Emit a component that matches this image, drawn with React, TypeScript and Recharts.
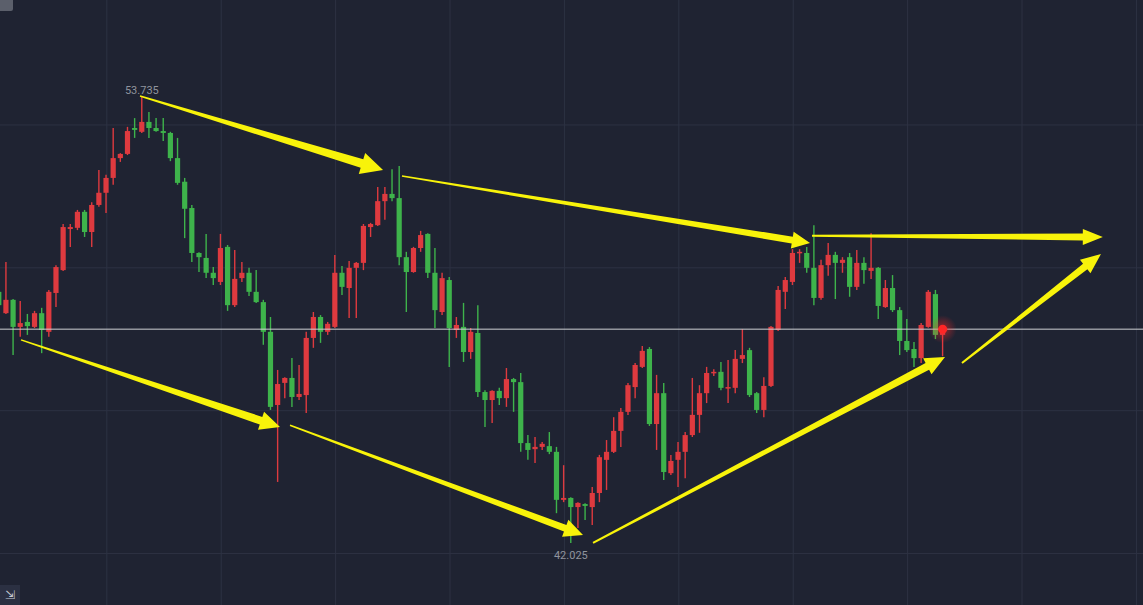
import React from 'react'
import {
  ComposedChart,
  Bar,
  XAxis,
  YAxis,
  CartesianGrid,
  ReferenceLine,
  ReferenceDot,
} from 'recharts'

const W = 1143
const H = 605

// candle values, one entry per bar (index = position on the x axis)
const opens = [
  48.62, 48.06, 48.41, 47.7, 47.83, 47.7, 48.06, 47.57, 48.59, 49.19,
  50.27, 50.3, 50.72, 50.19, 50.9, 51.22, 51.61, 52.13, 52.24, 52.92,
  52.82, 53.08, 52.92, 52.84, 52.79, 52.13, 51.51, 50.82, 49.64, 49.51,
  49.12, 48.88, 49.8, 48.27, 48.98, 49.12, 48.62, 48.35, 47.57, 45.65,
  46.23, 46.36, 45.86, 45.91, 47.41, 47.96, 47.57, 47.7, 49.12, 48.72,
  49.25, 49.38, 50.32, 50.37, 51.0, 51.19, 51.08, 49.53, 49.14, 49.77,
  50.14, 49.12, 48.09, 48.93, 47.62, 47.7, 47.04, 47.54, 45.99, 45.78,
  46.02, 45.83, 46.33, 46.25, 44.65, 44.49, 44.55, 44.57, 44.42, 43.16,
  43.21, 42.97, 43.05, 42.97, 43.34, 44.21, 44.42, 44.97, 45.47, 46.12,
  46.65, 47.12, 45.15, 45.96, 43.86, 44.21, 44.42, 44.86, 45.39, 45.96,
  46.49, 46.52, 46.1, 46.1, 46.86, 47.09, 45.96, 45.52, 46.15, 47.62,
  48.62, 48.88, 49.64, 49.64, 49.25, 48.46, 49.32, 49.59, 49.38, 49.53,
  48.75, 49.38, 49.17, 49.25, 48.22, 48.72, 48.14, 47.33, 47.12, 46.88,
  47.7, 48.56, 47.49,
]
const highs = [
  48.67, 49.4, 48.43, 48.38, 48.04, 48.12, 48.2, 48.67, 49.32, 50.4,
  50.4, 50.77, 50.77, 50.97, 51.82, 51.69, 52.92, 52.26, 52.95, 53.18,
  53.735, 53.34, 53.18, 53.18, 52.82, 52.66, 51.61, 50.9, 49.66, 50.14,
  49.27, 50.14, 49.85, 49.72, 49.4, 49.25, 49.19, 48.41, 47.96, 46.57,
  46.38, 46.88, 46.7, 47.57, 48.09, 48.01, 47.83, 49.59, 49.3, 49.43,
  49.4, 50.4, 50.43, 51.37, 51.37, 51.84, 51.92, 49.67, 49.8, 50.22,
  50.16, 49.77, 49.12, 49.01, 47.96, 48.33, 47.67, 48.27, 46.04, 46.04,
  46.1, 46.62, 46.36, 46.49, 44.86, 44.81, 44.68, 44.94, 44.55, 44.07,
  43.23, 43.1, 43.07, 43.5, 44.34, 44.73, 45.33, 45.57, 46.23, 46.75,
  47.2, 47.17, 46.44, 46.23, 44.34, 44.68, 44.94, 46.36, 46.17, 46.65,
  46.59, 46.78, 46.83, 47.09, 47.64, 47.15, 45.99, 46.38, 47.72, 48.77,
  49.01, 49.74, 49.74, 49.8, 50.37, 49.46, 49.9, 49.67, 49.53, 49.64,
  49.72, 49.53, 50.16, 49.27, 48.93, 49.06, 48.22, 47.91, 47.3, 47.8,
  48.67, 48.67, 47.7,
]
const lows = [
  48.22, 48.04, 46.96, 47.44, 47.49, 47.67, 47.01, 47.44, 48.22, 49.17,
  49.8, 50.24, 50.06, 49.8, 50.85, 50.69, 51.43, 52.03, 52.21, 52.66,
  52.79, 52.66, 52.82, 52.58, 52.05, 51.43, 50.03, 49.4, 49.14, 48.98,
  48.8, 48.8, 48.12, 48.22, 48.88, 48.51, 48.33, 47.23, 45.52, 43.63,
  45.83, 45.6, 45.78, 45.44, 47.15, 47.28, 47.49, 47.67, 48.54, 47.93,
  47.93, 49.19, 50.06, 50.35, 50.51, 51.0, 49.32, 48.09, 49.12, 49.67,
  48.98, 47.67, 48.01, 46.65, 47.41, 46.78, 46.86, 45.86, 45.07, 45.18,
  45.65, 45.6, 45.47, 44.42, 44.21, 44.13, 44.47, 44.36, 42.81, 43.1,
  42.025, 42.42, 42.63, 42.5, 43.1, 43.42, 44.39, 44.55, 45.39, 45.83,
  46.62, 45.1, 44.47, 43.68, 43.81, 43.5, 43.73, 44.81, 44.92, 45.7,
  46.41, 46.04, 45.7, 45.96, 46.75, 45.86, 45.44, 45.33, 46.12, 47.59,
  48.17, 48.8, 49.38, 49.12, 48.27, 48.41, 49.04, 48.43, 49.12, 48.49,
  48.67, 48.83, 48.96, 47.91, 48.2, 48.09, 46.96, 47.04, 46.65, 46.75,
  47.68, 47.38, 46.93,
]
const closes = [
  48.27, 48.41, 47.7, 47.8, 47.72, 48.06, 47.62, 48.62, 49.27, 50.32,
  50.32, 50.72, 50.19, 50.9, 51.22, 51.61, 52.13, 52.24, 52.84, 52.87,
  53.08, 52.92, 52.84, 52.79, 52.13, 51.48, 50.8, 49.64, 49.53, 49.12,
  48.98, 49.77, 48.27, 48.96, 49.12, 48.62, 48.35, 47.57, 45.6, 46.2,
  46.36, 45.86, 45.94, 47.41, 47.96, 47.57, 47.78, 49.12, 48.75, 49.25,
  49.38, 50.35, 50.4, 51.0, 51.19, 51.08, 49.53, 49.14, 49.77, 50.11,
  49.12, 48.14, 48.98, 47.67, 47.75, 47.04, 47.57, 45.99, 45.78, 46.02,
  45.83, 46.33, 46.25, 44.65, 44.47, 44.55, 44.63, 44.42, 43.16, 43.21,
  42.97, 43.08, 43.0, 43.34, 44.28, 44.42, 44.97, 45.47, 46.17, 46.7,
  47.07, 45.15, 45.96, 43.89, 44.18, 44.42, 44.86, 45.39, 45.96, 46.49,
  46.52, 46.1, 46.12, 46.86, 46.96, 45.91, 45.52, 46.15, 47.7, 48.67,
  48.93, 49.64, 49.67, 49.25, 48.46, 49.32, 49.59, 49.38, 49.46, 48.75,
  49.38, 49.19, 49.25, 48.25, 48.72, 48.14, 47.33, 47.09, 46.88, 47.75,
  48.62, 47.49, 47.64,
]

// grid lines (bar index / price)
const xGridTicks = [15.1, 31.1, 47.1, 63.1, 79.1, 95.1, 111.1, 127.1, 143.1, 159.1]
const yGridTicks = [41.75, 45.5, 49.25, 53]
const lastPrice = 47.64

// hand-drawn yellow arrows: [bar index, price] start -> tip
const arrowStarts = [
  [19.74, 53.76], [56.38, 51.66], [113.73, 50.09], [3.1, 47.36],
  [40.72, 45.12], [83.1, 42.03], [134.7, 46.75],
]
const arrowTips = [
  [53.73, 51.82], [113.45, 49.9], [154.4, 50.06], [39.32, 45.07],
  [81.7, 42.24], [132.33, 46.91], [154.14, 49.61],
]
// tail width, shaft width at head, head width, head length
const arrowSizes = [
  [1.5, 9, 22, 22], [1.5, 7, 17, 18], [2, 7, 16, 20], [1.5, 8, 19, 20],
  [1.5, 7, 18, 19], [2, 7.5, 18, 20], [2, 7, 17, 20],
]

const X_DOMAIN = [0.16, 160.02]
const Y_DOMAIN = [40.4, 56.28]

const BG = '#1f2332'
const GRID = '#2d3243'
const UP = '#de3a3f'
const DOWN = '#3eb34b'
const YELLOW = '#f8f30a'

const data = opens.map((o, i) => ({
  i,
  o,
  h: highs[i],
  l: lows[i],
  c: closes[i],
  range: [lows[i], highs[i]],
}))

const hiIdx = highs.indexOf(Math.max(...highs))
const loIdx = lows.indexOf(Math.min(...lows))

function Candle(props: any) {
  const { x, y, width, height, payload } = props
  if (x == null || y == null) return null
  const { o, h, l, c } = payload
  const top = Math.min(y, y + height)
  const total = Math.abs(height)
  const ppu = total / (h - l)
  const color = c >= o ? UP : DOWN
  const cx = x + width / 2
  const bodyTop = top + (h - Math.max(o, c)) * ppu
  const bodyH = Math.max(Math.abs(o - c) * ppu, 1.5)
  return (
    <g>
      <line x1={cx} x2={cx} y1={top} y2={top + total} stroke={color} strokeWidth={1.4} />
      <rect x={cx - 2.6} y={bodyTop} width={5.2} height={bodyH} fill={color} />
    </g>
  )
}

function makeArrow(size: number[]) {
  const [tailW, shaftW, headW, headLen] = size
  return (props: any) => {
    const { x1, y1, x2, y2 } = props
    if (x1 == null) return null
    const dx = x2 - x1
    const dy = y2 - y1
    const len = Math.hypot(dx, dy)
    const ux = dx / len
    const uy = dy / len
    const nx = -uy
    const ny = ux
    const bx = x2 - ux * headLen
    const by = y2 - uy * headLen
    const pts = [
      [x1 + (nx * tailW) / 2, y1 + (ny * tailW) / 2],
      [bx + (nx * shaftW) / 2, by + (ny * shaftW) / 2],
      [bx + (nx * headW) / 2, by + (ny * headW) / 2],
      [x2, y2],
      [bx - (nx * headW) / 2, by - (ny * headW) / 2],
      [bx - (nx * shaftW) / 2, by - (ny * shaftW) / 2],
      [x1 - (nx * tailW) / 2, y1 - (ny * tailW) / 2],
    ]
    return <polygon points={pts.map((p) => p.join(',')).join(' ')} fill={YELLOW} />
  }
}

function PriceLabel(props: any) {
  const { cx, cy, text, dy } = props
  if (cx == null) return null
  return (
    <text x={cx} y={cy + dy} textAnchor="middle" fontSize={11} fill="#8f939d" fontFamily="Roboto, sans-serif">
      {text}
    </text>
  )
}

function GlowDot(props: any) {
  const { cx, cy } = props
  if (cx == null) return null
  return (
    <g>
      <defs>
        <radialGradient id="glow">
          <stop offset="0%" stopColor="#ff2a2a" stopOpacity={0.55} />
          <stop offset="100%" stopColor="#ff2a2a" stopOpacity={0} />
        </radialGradient>
      </defs>
      <circle cx={cx} cy={cy} r={14} fill="url(#glow)" />
      <circle cx={cx} cy={cy} r={4.5} fill="#ff2626" />
    </g>
  )
}

export default function App() {
  return (
    <div style={{ position: 'relative', width: W, height: H, background: BG, overflow: 'hidden' }}>
      <style>{'body{margin:0}'}</style>
      <ComposedChart width={W} height={H} data={data} margin={{ top: 0, right: 0, bottom: 0, left: 0 }}>
        <XAxis dataKey="i" type="number" domain={X_DOMAIN} allowDataOverflow hide ticks={xGridTicks} />
        <YAxis type="number" domain={Y_DOMAIN} allowDataOverflow hide ticks={yGridTicks} />
        <CartesianGrid stroke={GRID} strokeWidth={1} horizontalValues={yGridTicks} verticalValues={xGridTicks} />
        <Bar dataKey="range" barSize={5} shape={Candle} isAnimationActive={false} />
        <ReferenceLine y={lastPrice} stroke="#cfd0d4" strokeWidth={1} ifOverflow="visible" />
        {arrowStarts.map((s, k) => (
          <ReferenceLine
            key={k}
            segment={[
              { x: s[0], y: s[1] },
              { x: arrowTips[k][0], y: arrowTips[k][1] },
            ]}
            ifOverflow="visible"
            shape={makeArrow(arrowSizes[k])}
          />
        ))}
        <ReferenceDot
          x={hiIdx}
          y={highs[hiIdx]}
          ifOverflow="visible"
          shape={(p: any) => <PriceLabel {...p} text={highs[hiIdx].toFixed(3)} dy={-3} />}
        />
        <ReferenceDot
          x={loIdx}
          y={lows[loIdx]}
          ifOverflow="visible"
          shape={(p: any) => <PriceLabel {...p} text={lows[loIdx].toFixed(3)} dy={16} />}
        />
        <ReferenceDot x={opens.length - 1} y={lastPrice} ifOverflow="visible" shape={GlowDot} />
      </ComposedChart>
      <div style={{ position: 'absolute', left: 0, top: 0, width: 13, height: 11, background: '#5b5f6b', borderBottomRightRadius: 2 }} />
      <div style={{ position: 'absolute', left: 0, bottom: 0, width: 20, height: 20, background: '#2b3042', color: '#c9ccd3', fontSize: 12, lineHeight: '20px', textAlign: 'center', fontFamily: 'DejaVu Sans' }}>
        ⇲
      </div>
    </div>
  )
}
